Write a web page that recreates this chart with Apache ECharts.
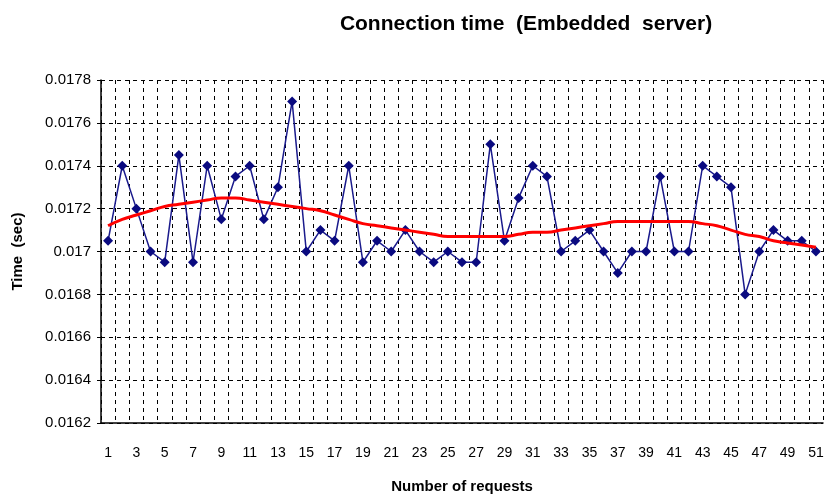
<!DOCTYPE html>
<html>
<head>
<meta charset="utf-8">
<script src="https://cdn.jsdelivr.net/npm/echarts@6/dist/echarts.min.js"></script>
<style>
  html, body { margin: 0; padding: 0; background: #fff; }
  #chart { width: 836px; height: 499px; }
</style>
</head>
<body>
<div id="chart"></div>
<script>
// requests 1..51
const requests = [];
for (let i = 1; i <= 51; i++) requests.push(String(i));

// measured connection time (sec)
const connTime = [
  0.01705, 0.0174, 0.0172, 0.017, 0.01695, 0.01745, 0.01695, 0.0174, 0.01715, 0.01735,
  0.0174, 0.01715, 0.0173, 0.0177, 0.017, 0.0171, 0.01705, 0.0174, 0.01695, 0.01705,
  0.017, 0.0171, 0.017, 0.01695, 0.017, 0.01695, 0.01695, 0.0175, 0.01705, 0.01725,
  0.0174, 0.01735, 0.017, 0.01705, 0.0171, 0.017, 0.0169, 0.017, 0.017, 0.01735,
  0.017, 0.017, 0.0174, 0.01735, 0.0173, 0.0168, 0.017, 0.0171, 0.01705, 0.01705,
  0.017
];

// trend line
const trend = [
  0.01712, 0.01715, 0.01717, 0.01719, 0.01721, 0.01722, 0.01723, 0.01724, 0.01725, 0.01725,
  0.01724, 0.01723, 0.01722, 0.01721, 0.0172, 0.01719, 0.01717, 0.01715, 0.01713, 0.01712,
  0.01711, 0.0171, 0.01709, 0.01708, 0.01707, 0.01707, 0.01707, 0.01707, 0.01707, 0.01708,
  0.01709, 0.01709, 0.0171, 0.01711, 0.01712, 0.01713, 0.01714, 0.01714, 0.01714, 0.01714,
  0.01714, 0.01714, 0.01713, 0.01712, 0.0171, 0.01708, 0.01707, 0.01705, 0.01704, 0.01703,
  0.01702
];

const font = "Liberation Sans, Arial, sans-serif";

let chart = echarts.init(document.getElementById("chart"));
let option = {
  animation: false,
  title: {
    text: "Connection time  (Embedded  server)",
    left: 521,
    textAlign: "center",
    top: 9,
    textStyle: { fontFamily: font, fontSize: 21, fontWeight: "bold", color: "#000" },
  },
  grid: { left: 101, right: 13, top: 80, bottom: 73 },
  xAxis: {
    type: "category",
    data: requests,
    boundaryGap: true,
    name: "Number of requests",
    nameLocation: "middle",
    nameGap: 56,
    nameTextStyle: { fontFamily: font, fontSize: 15, fontWeight: "bold", color: "#000" },
    axisLine: { lineStyle: { color: "#000", width: 1.5 } },
    axisTick: { interval: 0, length: 4, lineStyle: { color: "#000" } },
    axisLabel: { interval: 1, margin: 23, fontFamily: font, fontSize: 14, color: "#000" },
    splitLine: {
      show: true,
      interval: 0,
      lineStyle: { color: "#000", type: [4, 4], width: 1 },
    },
  },
  yAxis: {
    type: "value",
    min: 0.0162,
    max: 0.0178,
    interval: 0.0002,
    name: "Time  (sec)",
    nameLocation: "middle",
    nameGap: 76,
    nameTextStyle: { fontFamily: font, fontSize: 15, fontWeight: "bold", color: "#000" },
    axisLine: { show: true, lineStyle: { color: "#000", width: 1.5 } },
    axisTick: { show: true, length: 4, lineStyle: { color: "#000" } },
    axisLabel: {
      margin: 10,
      fontFamily: font,
      fontSize: 15,
      color: "#000",
      formatter: (v) => parseFloat(v.toFixed(4)).toString(),
    },
    splitLine: { show: true, lineStyle: { color: "#000", type: [4, 4], width: 1 } },
  },
  series: [
    {
      name: "Connection time",
      type: "line",
      data: connTime,
      symbol: "diamond",
      symbolSize: 10,
      showAllSymbol: true,
      lineStyle: { color: "#1a1a8c", width: 1.5 },
      itemStyle: { color: "#0a0a80" },
      z: 3,
    },
    {
      name: "Trend",
      type: "line",
      data: trend,
      smooth: true,
      showSymbol: false,
      lineStyle: { color: "#ff0000", width: 3 },
      z: 4,
    },
  ],
};
option && chart.setOption(option);
</script>
</body>
</html>
